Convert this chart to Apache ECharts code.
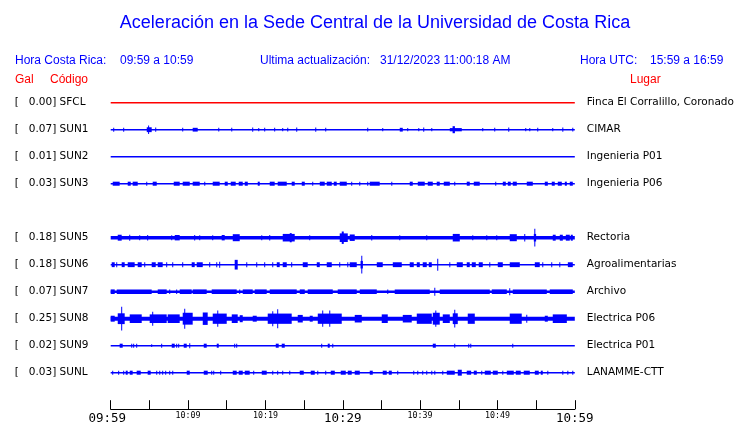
<!DOCTYPE html>
<html>
<head>
<meta charset="utf-8">
<script src="https://cdn.jsdelivr.net/npm/echarts@6/dist/echarts.min.js"></script>
<style>
html,body{margin:0;padding:0;background:#fff;}
#chart{width:740px;height:423px;}
</style>
</head>
<body>
<div id="chart"></div>
<script>
// ---------------- DATA ----------------
// rows (top to bottom); the empty row is the missing SUN4 slot
var codes  = ['SFCL','SUN1','SUN2','SUN3','','SUN5','SUN6','SUN7','SUN8','SUN9','SUNL'];
var galMax = [0.00, 0.07, 0.01, 0.03, null, 0.18, 0.18, 0.07, 0.25, 0.02, 0.03];
var places = ['Finca El Corralillo, Coronado','CIMAR','Ingenieria P01','Ingenieria P06','',
              'Rectoria','Agroalimentarias','Archivo','Electrica P06','Electrica P01','LANAMME-CTT'];
// x axis: minutes after 09:59, ticks every 5 minutes
var xTickLabels = ['09:59','','10:09','','10:19','','10:29','','10:39','','10:49','','10:59'];
// background noise half-amplitude per trace (tenths of row spacing)
var noiseFloor = [0.3, 0.3, 0.3, 0.3, null, 0.65, 0.3, 0.45, 0.75, 0.3, 0.3];
// bursts: [start minute, end minute, half-amplitude]
var burstsSFCL = [];
var burstsSUN1 = [[0.39,0.39,0.75],[1.68,1.68,0.75],[4.66,5.3,0.9],[4.9,5.0,1.6],[5.82,5.82,0.8],[9.31,9.31,0.7],[10.6,11.25,0.7],[13.97,13.97,0.7],[15.65,15.65,0.7],[18.36,18.36,0.8],[19.14,19.14,0.6],[19.91,19.91,0.7],[21.2,21.2,0.7],[22.24,22.24,0.6],[22.89,22.89,0.7],[24.05,24.05,0.8],[26.51,26.51,0.8],[27.8,27.8,0.7],[33.23,33.23,0.7],[35.17,35.17,0.6],[37.37,37.76,0.7],[38.4,38.4,0.6],[39.83,39.83,0.6],[40.47,40.47,0.8],[41.51,41.51,0.6],[43.84,45.39,0.6],[44.2,44.5,1.3],[48.1,48.1,0.6],[49.65,49.65,0.7],[51.46,51.46,0.8],[53.66,53.66,0.6],[54.18,54.18,0.6],[55.21,55.21,0.7],[57.15,57.15,0.6],[58.45,58.45,0.8],[59.74,59.74,0.7]];
var burstsSUN2 = [];
var burstsSUN3 = [[0.26,1.16,0.75],[2.2,2.59,0.75],[2.84,3.49,0.75],[4.66,4.66,0.75],[5.43,5.95,0.75],[8.15,8.92,0.75],[9.31,10.22,0.75],[10.6,11.51,0.75],[12.16,12.16,0.75],[13.19,14.09,0.75],[14.74,15.13,0.75],[15.52,16.16,0.75],[16.55,17.07,0.75],[17.33,17.72,0.75],[19.01,19.27,0.75],[20.56,21.2,0.75],[21.59,22.76,0.75],[23.4,23.79,0.75],[24.7,25.09,0.75],[26.12,26.12,0.75],[27.03,27.67,0.75],[27.93,28.58,0.75],[28.84,29.22,0.75],[29.61,30.52,0.75],[31.16,31.16,0.75],[32.2,32.2,0.75],[33.23,33.23,0.75],[33.49,34.78,0.75],[36.34,36.34,0.75],[38.66,39.05,0.75],[39.7,40.6,0.75],[40.99,41.64,0.75],[42.15,42.54,0.75],[43.06,43.84,0.75],[44.48,44.48,0.75],[46.03,46.42,0.75],[46.94,47.71,0.75],[49.78,49.78,0.75],[50.69,51.08,0.75],[51.34,51.72,0.75],[51.98,52.5,0.75],[53.79,54.57,0.75],[56.12,56.51,0.75],[57.02,57.41,0.75],[57.8,58.32,0.75],[58.71,58.97,0.75],[59.35,59.74,0.75]];
var burstsSUN5 = [[0.91,1.42,1.1],[2.46,2.46,1.1],[3.75,3.75,0.9],[4.78,4.78,1.0],[7.89,7.89,0.9],[8.28,8.92,1.0],[10.86,10.86,1.0],[11.51,11.51,0.9],[13.19,13.19,0.9],[14.35,14.74,1.0],[15.78,16.68,1.3],[19.53,19.53,0.9],[20.56,20.56,1.0],[22.24,23.79,1.4],[23.15,23.4,1.7],[25.73,25.73,0.9],[29.61,30.65,1.6],[29.87,30.13,2.3],[30.9,31.55,1.2],[33.75,33.75,1.0],[37.37,37.37,0.9],[40.86,40.86,0.9],[44.22,45.13,1.4],[46.81,46.81,0.9],[48.62,48.62,0.9],[49.91,49.91,0.9],[51.59,52.5,1.3],[53.53,53.53,1.4],[54.7,55.0,1.4],[54.83,54.83,3.3],[57.15,57.53,1.1],[58.06,58.45,1.1],[58.84,59.35,1.1],[59.48,59.74,1.1]];
var burstsSUN6 = [[0.13,0.52,0.9],[0.78,0.78,0.9],[1.42,1.81,0.9],[2.2,3.1,0.9],[3.49,4.01,0.9],[4.4,4.4,0.9],[5.3,5.82,0.9],[6.08,6.72,0.9],[7.24,7.24,0.9],[8.02,8.02,0.9],[9.31,9.31,0.9],[10.47,10.86,0.9],[11.12,11.9,0.9],[12.8,12.8,0.9],[13.71,13.71,0.9],[14.09,14.09,1.1],[16.03,16.42,1.8],[17.59,17.59,0.9],[18.88,18.88,0.9],[19.91,19.91,0.9],[20.95,20.95,0.9],[21.47,21.85,0.9],[22.24,22.76,0.9],[23.4,23.4,0.9],[24.83,25.47,0.9],[26.64,27.03,0.9],[27.93,28.58,0.9],[29.61,29.61,0.9],[30.65,30.65,0.9],[30.9,31.81,0.9],[32.3,32.6,1.4],[32.46,32.46,3.3],[34.4,35.17,0.9],[36.47,37.63,0.9],[38.66,39.18,0.9],[39.57,39.96,0.9],[40.34,40.86,0.9],[41.12,41.51,0.9],[42.28,42.28,2.2],[43.84,43.84,0.9],[44.74,45.52,0.9],[46.03,46.42,0.9],[46.68,47.2,0.9],[47.58,48.1,0.9],[49.01,49.01,0.9],[50.04,50.69,0.9],[51.59,52.89,0.9],[54.83,55.47,0.9],[55.86,55.86,0.9],[57.02,57.02,0.9],[58.06,58.06,0.9],[59.1,59.74,0.9]];
var burstsSUN7 = [[0,0.52,0.85],[0.78,5.3,0.85],[6.08,7.24,0.85],[7.63,7.63,0.85],[8.53,8.53,0.85],[8.92,10.47,0.85],[10.6,12.41,0.85],[13.06,16.29,0.85],[16.68,16.68,0.85],[17.07,18.36,0.85],[18.62,20.17,0.85],[20.56,24.05,0.85],[24.44,25.09,0.85],[25.47,28.71,0.85],[29.35,31.81,0.85],[32.2,34.4,0.85],[35.82,35.82,0.85],[36.72,41.25,0.85],[41.9,41.9,1.5],[42.54,49.01,0.85],[49.27,51.21,0.85],[51.59,51.59,1.3],[51.98,56.38,0.85],[56.76,59.74,0.85]];
var burstsSUN8 = [[0,0.52,1.1],[0.91,1.81,2.0],[1.42,1.42,4.4],[2.46,4.01,1.6],[5.04,7.24,1.6],[5.43,5.43,2.6],[7.37,8.92,1.6],[9.31,10.6,2.2],[9.57,9.57,3.7],[11.9,12.54,2.3],[13.19,15.0,1.9],[13.84,13.84,3.0],[15.65,16.42,1.6],[16.68,17.07,1.3],[18.36,18.88,1.1],[20.3,23.4,1.9],[20.95,20.95,2.8],[21.59,21.59,3.5],[24.18,24.83,1.4],[25.73,26.12,1.1],[26.77,29.87,1.9],[27.41,27.41,3.0],[28.32,28.32,3.0],[31.55,32.46,1.4],[35.04,35.82,1.6],[37.76,38.92,1.4],[39.57,41.51,1.9],[41.64,42.54,2.2],[42.03,42.03,3.0],[42.93,43.84,1.6],[44.22,44.87,2.0],[44.48,44.48,3.3],[46.16,47.07,1.9],[51.59,53.14,1.9],[53.79,53.79,1.5],[56.12,56.51,1.1],[57.15,58.97,1.6]];
var burstsSUN9 = [[1.16,1.55,0.75],[2.72,2.72,0.75],[2.97,2.97,0.75],[3.36,3.36,0.75],[5.3,5.3,0.5],[6.59,6.59,0.75],[7.89,8.28,0.75],[8.53,8.53,0.75],[8.79,8.79,0.75],[9.44,9.83,0.75],[10.22,10.22,0.9],[12.03,12.41,0.75],[13.71,13.97,0.75],[16.03,16.03,0.75],[16.29,16.29,0.75],[21.34,21.72,0.75],[22.11,22.5,0.75],[27.28,27.28,0.75],[28.06,28.32,0.75],[28.71,28.71,0.75],[41.64,42.03,0.75],[44.48,44.48,0.75],[46.29,46.29,0.75],[46.55,46.55,0.75],[51.98,51.98,0.75]];
var burstsSUNL = [[0.26,0.26,0.75],[1.03,1.03,0.75],[1.68,1.68,0.75],[1.94,2.2,0.75],[2.46,2.84,0.75],[3.36,3.88,0.75],[4.78,5.17,0.75],[5.95,5.95,0.75],[6.34,6.34,0.75],[6.72,6.72,0.75],[7.11,7.11,0.75],[7.63,7.63,0.75],[8.02,8.02,0.75],[9.83,10.22,0.75],[12.03,12.54,0.75],[13.06,13.06,0.75],[13.32,13.32,0.75],[14.22,14.22,0.75],[15.78,16.29,0.75],[16.55,17.07,0.75],[17.33,17.97,0.75],[18.49,18.49,0.75],[19.53,20.17,0.75],[20.95,20.95,0.75],[21.59,21.59,0.75],[22.24,22.24,0.75],[23.15,23.15,0.75],[24.44,24.96,0.75],[25.86,26.38,0.75],[26.77,26.77,0.75],[27.8,27.8,0.75],[28.45,28.97,0.75],[29.74,30.39,0.75],[30.65,31.16,0.75],[31.55,32.2,0.75],[33.49,33.88,0.75],[35.17,35.69,0.75],[35.95,36.34,0.75],[37.11,37.11,0.75],[39.18,39.18,0.75],[39.7,39.7,0.75],[40.34,40.34,0.75],[40.86,40.86,0.75],[41.51,41.51,0.75],[41.9,41.9,0.75],[42.93,42.93,0.75],[43.45,44.48,0.75],[44.87,45.39,1.1],[46.03,46.6,0.75],[46.94,47.33,0.75],[47.97,47.97,0.75],[48.36,49.14,0.75],[49.4,50.04,0.75],[50.69,50.69,0.75],[51.21,52.11,0.75],[52.37,53.01,0.75],[53.4,54.18,0.75],[54.83,55.34,0.75],[55.6,55.86,0.75],[56.51,56.51,0.75],[58.45,58.45,0.75],[59.1,59.1,0.75],[59.74,59.74,0.75]];
var bursts = [burstsSFCL, burstsSUN1, burstsSUN2, burstsSUN3, null, burstsSUN5, burstsSUN6, burstsSUN7, burstsSUN8, burstsSUN9, burstsSUNL];

// ---------------- CHART ----------------
var BLUE = '#0000ff', RED = '#ff0000';
var chart = echarts.init(document.getElementById('chart'), null, {renderer: 'canvas'});

function pad7(v) { var s = v.toFixed(2); while (s.length < 7) s = ' ' + s; return s; }
var leftLabels = codes.map(function (c, i) { return galMax[i] == null ? '' : '[' + pad7(galMax[i]) + '] ' + c; });

function renderTrace(params, api) {
  var x0 = api.value(0), x1 = api.value(1), a = api.value(2), row = api.value(3);
  var band = api.size([0, 1])[1];
  var h = Math.max(a * band / 10, 0.5);
  var p0 = api.coord([x0, row]);
  var p1 = api.coord([x1, row]);
  var w = p1[0] - p0[0];
  var x = p0[0];
  if (w < 1) { x = p0[0] - 0.5; w = 1; }
  return {type: 'rect', shape: {x: x, y: p0[1] - h, width: w, height: 2 * h},
    style: {fill: api.visual('color')}};
}

var series = [];
codes.forEach(function (c, row) {
  if (!c) return;
  var items = [[0, 60, noiseFloor[row], row]];
  bursts[row].forEach(function (b) { items.push([b[0], b[1], b[2], row]); });
  series.push({
    type: 'custom',
    name: c,
    renderItem: renderTrace,
    encode: {x: [0, 1], y: 3},
    itemStyle: {color: row === 0 ? RED : BLUE},
    data: items,
    silent: true,
    animation: false
  });
});

function txt(text, x, y, color, font, align) {
  return {type: 'text', x: x, y: y, silent: true,
    style: {text: text, fill: color, font: font, align: align || 'left', verticalAlign: 'middle'}};
}
var HF = '12px "Liberation Sans", Arial, sans-serif';

var option = {
  animation: false,
  backgroundColor: '#ffffff',
  grid: {left: 110.7, right: 165.2, top: 89.2, bottom: 36.8, containLabel: false, outerBoundsMode: 'none'},
  xAxis: {
    type: 'value', min: 0, max: 60, interval: 5, offset: 23,
    axisLine: {show: true, lineStyle: {color: '#000', width: 1}},
    axisTick: {show: true, inside: true, length: 9, lineStyle: {color: '#000', width: 1}},
    splitLine: {show: false},
    axisLabel: {
      margin: 3, color: '#000', showMinLabel: true, showMaxLabel: true,
      formatter: function (v) {
        var lab = xTickLabels[Math.round(v / 5)];
        if (!lab) return '';
        if (v === 0) return '{bigFirst|' + lab + '}';
        return (v % 30 === 0) ? '{big|' + lab + '}' : '{small|' + lab + '}';
      },
      rich: {
        big: {fontFamily: '"DejaVu Sans Mono", monospace', fontSize: 12.5, lineHeight: 13, color: '#000'},
        bigFirst: {fontFamily: '"DejaVu Sans Mono", monospace', fontSize: 12.5, lineHeight: 13, color: '#000', padding: [0, 7, 0, 0]},
        small: {fontFamily: '"DejaVu Sans Mono", monospace', fontSize: 8.3, lineHeight: 13, verticalAlign: 'top', color: '#000'}
      }
    }
  },
  yAxis: [{
    type: 'category', data: leftLabels, inverse: true, position: 'left',
    axisLine: {show: false}, axisTick: {show: false}, splitLine: {show: false},
    axisLabel: {interval: 0, align: 'left', margin: 96, color: '#000',
      fontFamily: '"DejaVu Sans", sans-serif', fontSize: 10.5}
  }, {
    type: 'category', data: places, inverse: true, position: 'right',
    axisLine: {show: false}, axisTick: {show: false}, splitLine: {show: false},
    axisLabel: {interval: 0, align: 'left', margin: 12, color: '#000',
      fontFamily: '"DejaVu Sans", sans-serif', fontSize: 10.5}
  }],
  graphic: [
    txt('Aceleración en la Sede Central de la Universidad de Costa Rica', 375, 23, BLUE, '18px "Liberation Sans", Arial, sans-serif', 'center'),
    txt('Hora Costa Rica:', 15, 61, BLUE, HF),
    txt('09:59 a 10:59', 120, 61, BLUE, HF),
    txt('Ultima actualización:', 260, 61, BLUE, HF),
    txt('31/12/2023 11:00:18 AM', 380, 61, BLUE, HF),
    txt('Hora UTC:', 580, 61, BLUE, HF),
    txt('15:59 a 16:59', 650, 61, BLUE, HF),
    txt('Gal', 15, 80, RED, HF),
    txt('Código', 50, 80, RED, HF),
    txt('Lugar', 630, 80, RED, HF)
  ],
  series: series
};
chart.setOption(option);
</script>
</body>
</html>
